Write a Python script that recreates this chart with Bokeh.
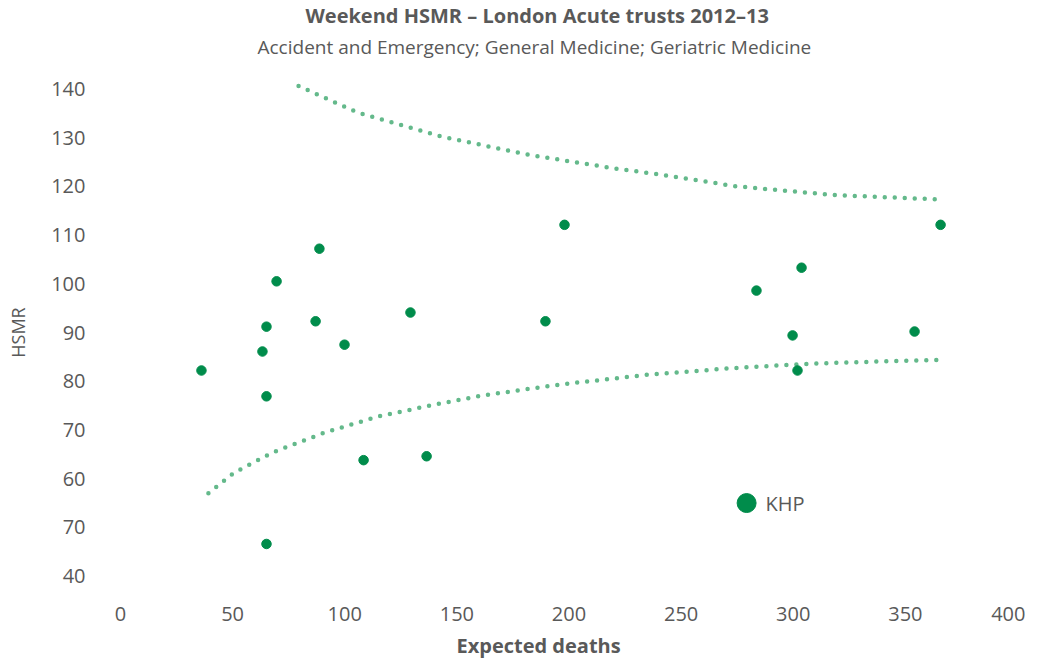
from bokeh.plotting import figure
from bokeh.models import Label, FixedTicker, Range1d, Title
from bokeh.embed import file_html
from bokeh.resources import INLINE

# --- data ---
trust_expected = [36.1, 63.3, 65.1, 65.1, 65.1, 69.6, 88.7, 87.0, 99.9, 108.4,
                  129.3, 136.5, 189.5, 198.0, 283.6, 299.7, 301.9, 303.7, 354.1, 365.7]
trust_hsmr = [82.2, 86.1, 91.2, 76.9, 46.6, 100.5, 107.2, 92.3, 87.5, 63.8,
              94.1, 64.6, 92.3, 112.1, 98.6, 89.4, 82.2, 103.3, 90.2, 112.1]

khp_expected = [279.2]
khp_hsmr = [55.0]
khp_label = "KHP"

upper_x = [79.4, 105.9, 143.4, 181.6, 219.9, 239.4, 274.6, 318.4, 365.7]
upper_y = [140.6, 135.1, 130.2, 126.5, 123.7, 122.5, 120.0, 118.2, 117.3]

lower_x = [39.2, 50.6, 67.9, 90.7, 114.3, 137.9, 161.7, 195.6, 234.4, 273.2, 307.4, 341.4, 365.8]
lower_y = [57.0, 61.2, 65.4, 69.4, 72.7, 75.0, 77.1, 79.3, 81.3, 82.7, 83.6, 84.1, 84.4]

x_ticks = [0, 50, 100, 150, 200, 250, 300, 350, 400]
y_ticks = [40, 50, 60, 70, 80, 90, 100, 110, 120, 130, 140]
y_tick_labels = ["40", "70", "60", "70", "80", "90", "100", "110", "120", "130", "140"]

title_text = "Weekend HSMR \u2013 London Acute trusts 2012\u201313"
subtitle_text = "Accident and Emergency; General Medicine; Geriatric Medicine"
x_title = "Expected deaths"
y_title = "HSMR"

FONT = "Open Sans"
TEXT = "#595959"
POINT = "#008c4b"
LIMIT = "#64b98b"

p = figure(width=1025, height=666, output_backend="svg", toolbar_location=None,
           x_range=Range1d(0, 400), y_range=Range1d(35, 145),
           min_border_left=120, min_border_right=8,
           min_border_top=64, min_border_bottom=66)
p.title.visible = False
p.outline_line_color = None
p.background_fill_color = "white"
p.grid.visible = False

for ax in (p.xaxis[0], p.yaxis[0]):
    ax.axis_line_color = None
    ax.major_tick_line_color = None
    ax.minor_tick_line_color = None
    ax.major_tick_in = 0
    ax.major_tick_out = 0
    ax.minor_tick_in = 0
    ax.minor_tick_out = 0
    ax.major_label_text_font = FONT
    ax.major_label_text_font_size = "20px"
    ax.major_label_text_color = TEXT

p.xaxis.ticker = FixedTicker(ticks=x_ticks)
p.yaxis.ticker = FixedTicker(ticks=y_ticks)
p.yaxis.major_label_overrides = {t: l for t, l in zip(y_ticks, y_tick_labels)}
p.xaxis.major_label_standoff = 6
p.yaxis.major_label_standoff = 35

p.yaxis.axis_label = y_title
p.yaxis.axis_label_text_font = FONT
p.yaxis.axis_label_text_font_size = "18px"
p.yaxis.axis_label_text_font_style = "normal"
p.yaxis.axis_label_text_color = TEXT
p.yaxis.axis_label_standoff = 18

p.line(upper_x, upper_y, line_color=LIMIT, line_width=4.5, line_dash="0 10", line_cap="round")
p.line(lower_x, lower_y, line_color=LIMIT, line_width=4.5, line_dash="0 10", line_cap="round")

p.scatter(trust_expected, trust_hsmr, size=9.5, fill_color=POINT, line_color=POINT)
p.scatter(khp_expected, khp_hsmr, size=19, fill_color=POINT, line_color=POINT)

p.add_layout(Label(x=khp_expected[0], y=khp_hsmr[0], text=khp_label, x_offset=19,
                   text_baseline="middle", text_font=FONT, text_font_size="20px",
                   text_color=TEXT))

# titles: first added "above" sits nearest to the plot
p.add_layout(Title(text=subtitle_text, align="left", offset=137, standoff=9,
                   text_font=FONT, text_font_size="19px", text_font_style="normal",
                   text_color=TEXT), "above")
p.add_layout(Title(text=title_text, align="left", offset=185, standoff=-3,
                   text_font=FONT, text_font_size="20px", text_font_style="bold",
                   text_color=TEXT), "above")
p.add_layout(Title(text=x_title, align="left", offset=336, standoff=13,
                   text_font=FONT, text_font_size="20px", text_font_style="bold",
                   text_color=TEXT), "below")

open("out.html", "w").write(file_html(p, INLINE))
